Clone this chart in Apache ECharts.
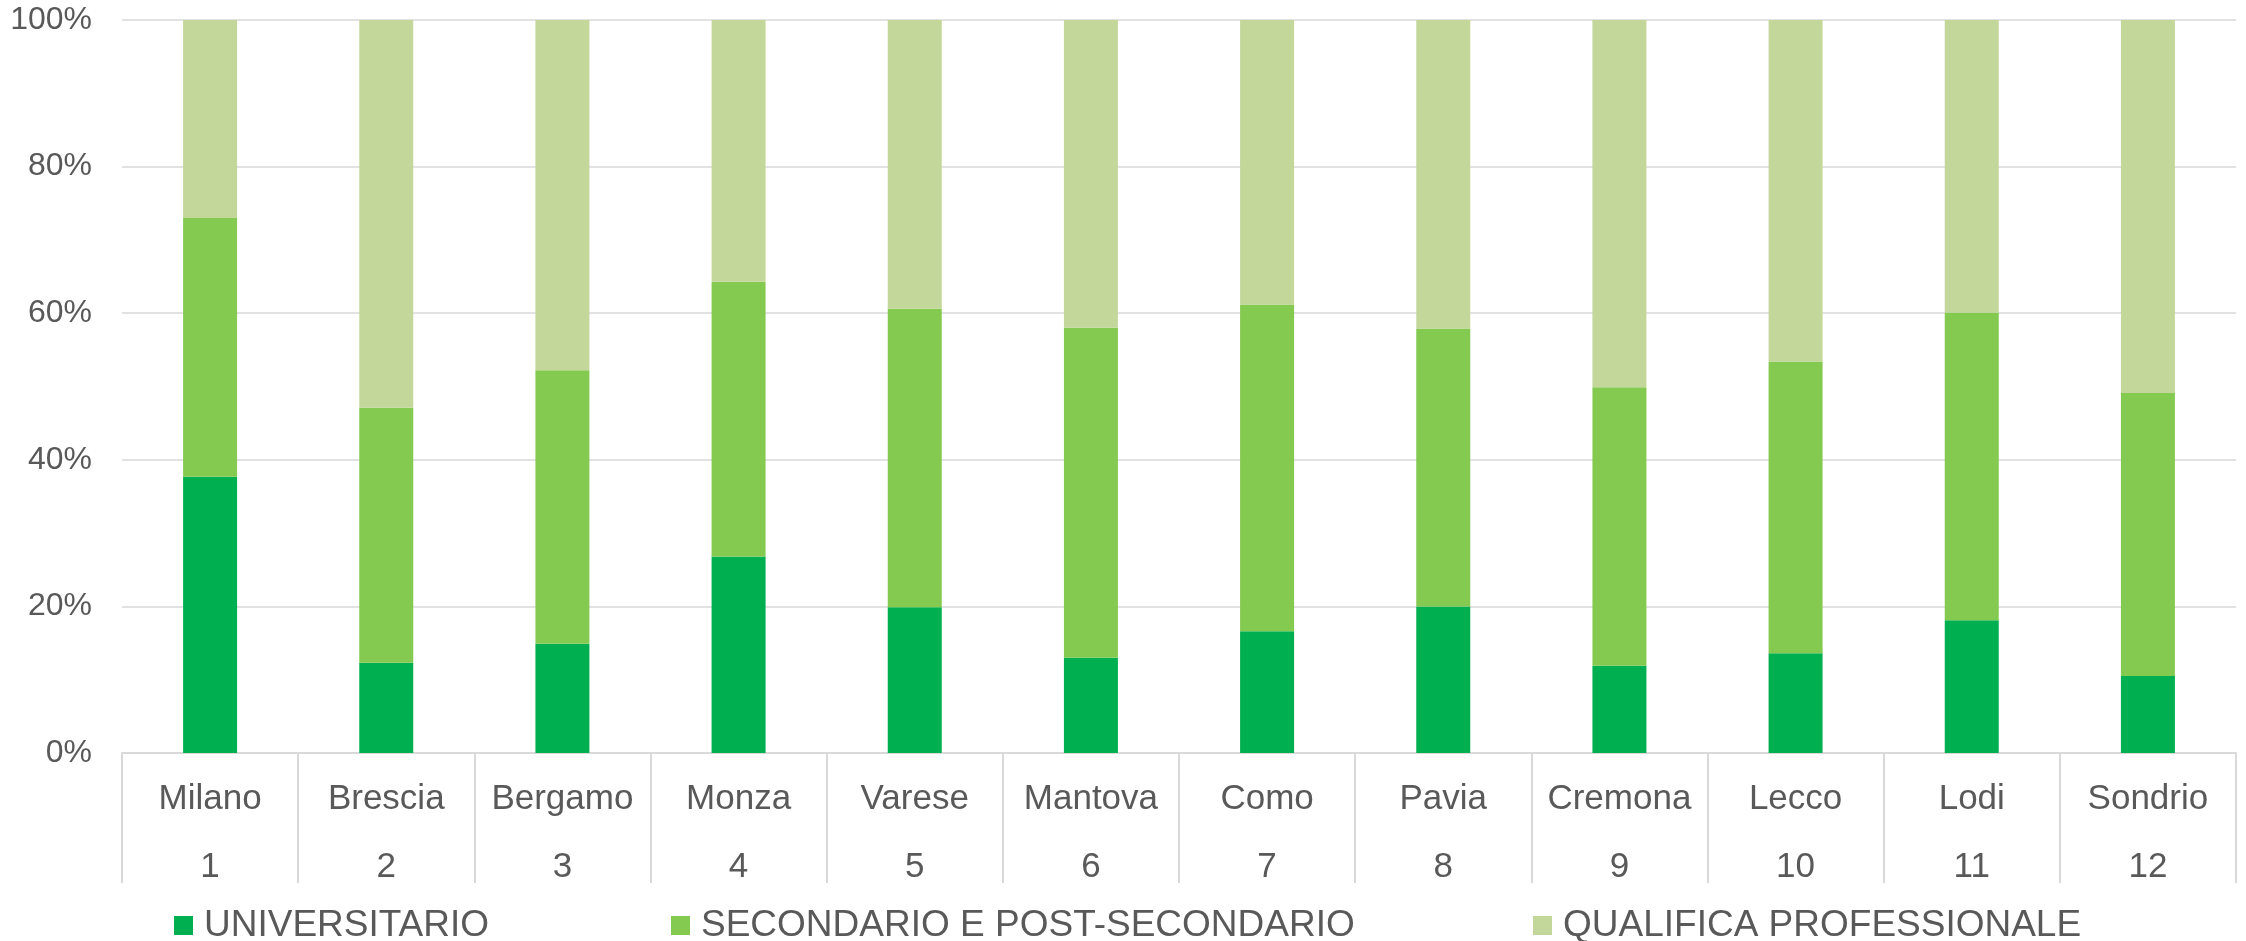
<!DOCTYPE html>
<html>
<head>
<meta charset="utf-8">
<script src="https://cdn.jsdelivr.net/npm/echarts@6/dist/echarts.min.js"></script>
<style>
  html, body { margin: 0; padding: 0; background: #fff; }
  #chart { width: 2246px; height: 941px; }
</style>
</head>
<body>
<div id="chart"></div>
<script>
// province e rank
const cities = ['Milano', 'Brescia', 'Bergamo', 'Monza', 'Varese', 'Mantova', 'Como', 'Pavia', 'Cremona', 'Lecco', 'Lodi', 'Sondrio'];
const ranks = ['1', '2', '3', '4', '5', '6', '7', '8', '9', '10', '11', '12'];

// quote percentuali per titolo di studio
const universitario = [37.7, 12.3, 14.9, 26.8, 19.9, 13.0, 16.6, 20.0, 11.9, 13.6, 18.1, 10.5];
const secondario = [35.3, 34.8, 37.3, 37.5, 40.7, 45.0, 44.6, 37.9, 38.0, 39.8, 42.0, 38.6];
const qualifica = [27.0, 52.9, 47.8, 35.7, 39.4, 42.0, 38.8, 42.1, 50.1, 46.6, 39.9, 50.9];

const seriesNames = ['UNIVERSITARIO', 'SECONDARIO E POST-SECONDARIO', 'QUALIFICA PROFESSIONALE'];
const yTicks = [0, 20, 40, 60, 80, 100];

const textColor = '#595959';
const font = 'Liberation Sans, Arial, sans-serif';

let myChart = echarts.init(document.getElementById('chart'));

// una legenda per voce, posizionate come in Excel
const legendPos = [174, 671, 1533];
const legends = seriesNames.map((n, i) => ({
  data: [n],
  left: legendPos[i],
  top: 907,
  padding: 0,
  icon: 'rect',
  itemWidth: 19,
  itemHeight: 19,
  textStyle: { color: textColor, fontSize: 37, fontFamily: font, padding: [0, 0, 0, 6] }
}));

const option = {
  animation: false,
  color: ['#00B050', '#85CA50', '#C4D79B'],
  legend: legends,
  grid: {
    left: 122,
    right: 10,
    top: 20,
    bottom: 188
  },
  xAxis: {
    type: 'category',
    data: cities,
    axisLine: { lineStyle: { color: '#D9D9D9', width: 2 } },
    axisTick: {
      show: true,
      length: 130,
      lineStyle: { color: '#D9D9D9', width: 2 }
    },
    axisLabel: {
      interval: 0,
      margin: 12,
      color: textColor,
      fontFamily: font,
      formatter: (v, idx) => '{a|' + v + '}\n{b|' + ranks[idx] + '}',
      rich: {
        a: { fontSize: 35, lineHeight: 68, color: textColor, fontFamily: font },
        b: { fontSize: 35, lineHeight: 68, color: textColor, fontFamily: font }
      }
    }
  },
  yAxis: {
    type: 'value',
    min: yTicks[0],
    max: yTicks[yTicks.length - 1],
    interval: 20,
    axisLine: { show: false },
    axisTick: { show: false },
    splitLine: { lineStyle: { color: '#D9D9D9', width: 1.5 } },
    axisLabel: {
      margin: 30,
      color: textColor,
      fontSize: 32,
      fontFamily: font,
      formatter: '{value}%'
    }
  },
  series: [
    { name: seriesNames[0], type: 'bar', stack: 'tot', barWidth: 54, data: universitario },
    { name: seriesNames[1], type: 'bar', stack: 'tot', barWidth: 54, data: secondario },
    { name: seriesNames[2], type: 'bar', stack: 'tot', barWidth: 54, data: qualifica }
  ]
};

myChart.setOption(option);
</script>
</body>
</html>
